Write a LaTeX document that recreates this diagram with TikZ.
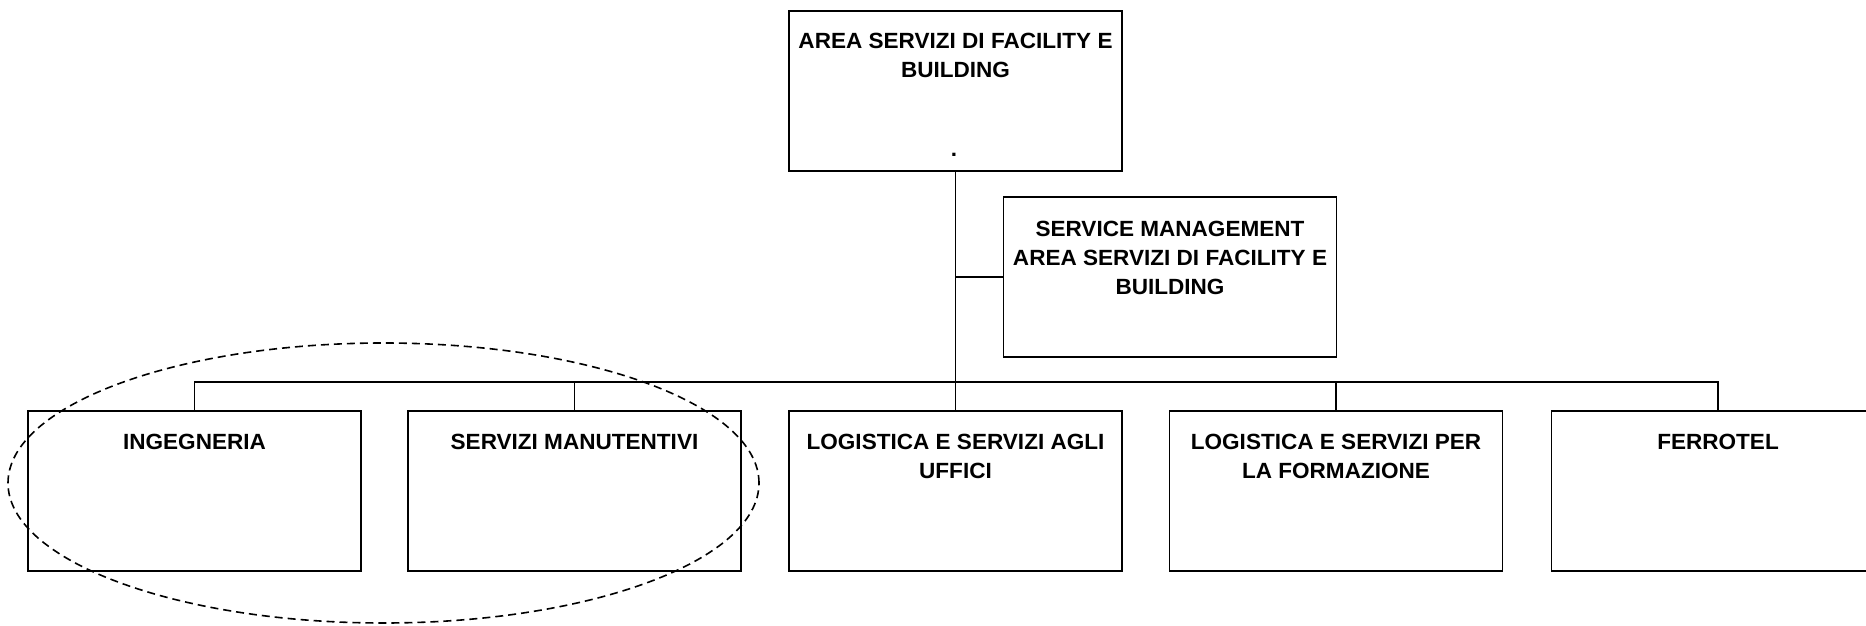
\documentclass[tikz,border=0pt]{standalone}
\usepackage{fontspec}
\setmainfont[FakeStretch=1.025]{Liberation Sans}
\usetikzlibrary{calc}
\begin{document}
\begin{tikzpicture}[x=1pt,y=-1pt,
  orgbox/.style={draw, line width=1.8pt, minimum width=333pt, minimum height=160pt, anchor=north, inner sep=0pt},
  lbl/.style={font=\fontsize{22}{29}\selectfont\bfseries, align=center, anchor=north, inner sep=0pt},
  link/.style={line width=1.6pt},
  group/.style={line width=1.6pt, dash pattern=on 8pt off 5pt}]
\useasboundingbox (0,0) rectangle (1866,626);
% boxes
\node[orgbox] (top) at (955.5,10) {};
\node[orgbox] (sm) at (1170,196) {};
\node[orgbox] (ing) at (194.5,410) {};
\node[orgbox] (man) at (574.5,410) {};
\node[orgbox] (log) at (955.5,410) {};
\node[orgbox] (for) at (1336,410) {};
\node[orgbox] (fer) at (1718,410) {};
% labels
\node[lbl] (ttop) at ($(top.north)+(0,23)$) {AREA SERVIZI DI FACILITY E\\BUILDING};
\node[font=\fontsize{22}{29}\selectfont\bfseries, anchor=base, inner sep=0pt] (dot) at (954,156) {.};
\node[lbl] (tsm) at ($(sm.north)+(0,25)$) {SERVICE MANAGEMENT\\AREA SERVIZI DI FACILITY E\\BUILDING};
\node[lbl] (ting) at ($(ing.north)+(0,24)$) {INGEGNERIA};
\node[lbl] (tman) at ($(man.north)+(0,24)$) {SERVIZI MANUTENTIVI};
\node[lbl] (tlog) at ($(log.north)+(0,24)$) {LOGISTICA E SERVIZI AGLI\\UFFICI};
\node[lbl] (tfor) at ($(for.north)+(0,24)$) {LOGISTICA E SERVIZI PER\\LA FORMAZIONE};
\node[lbl] (tfer) at ($(fer.north)+(0,24)$) {FERROTEL};
% connectors
\coordinate (bus) at (0,382);
\draw[link] (top.south) -- (log.north);
\draw[link] (top.south |- sm.west) -- (sm.west);
\draw[link] (ing.north) -- (ing.north |- bus) -- (fer.north |- bus) -- (fer.north);
\draw[link] (man.north) -- (man.north |- bus);
\draw[link] (for.north) -- (for.north |- bus);
% dashed grouping ellipse
\draw[group] (383.5,483) ellipse [x radius=375.5pt, y radius=140pt];
\end{tikzpicture}
\end{document}
